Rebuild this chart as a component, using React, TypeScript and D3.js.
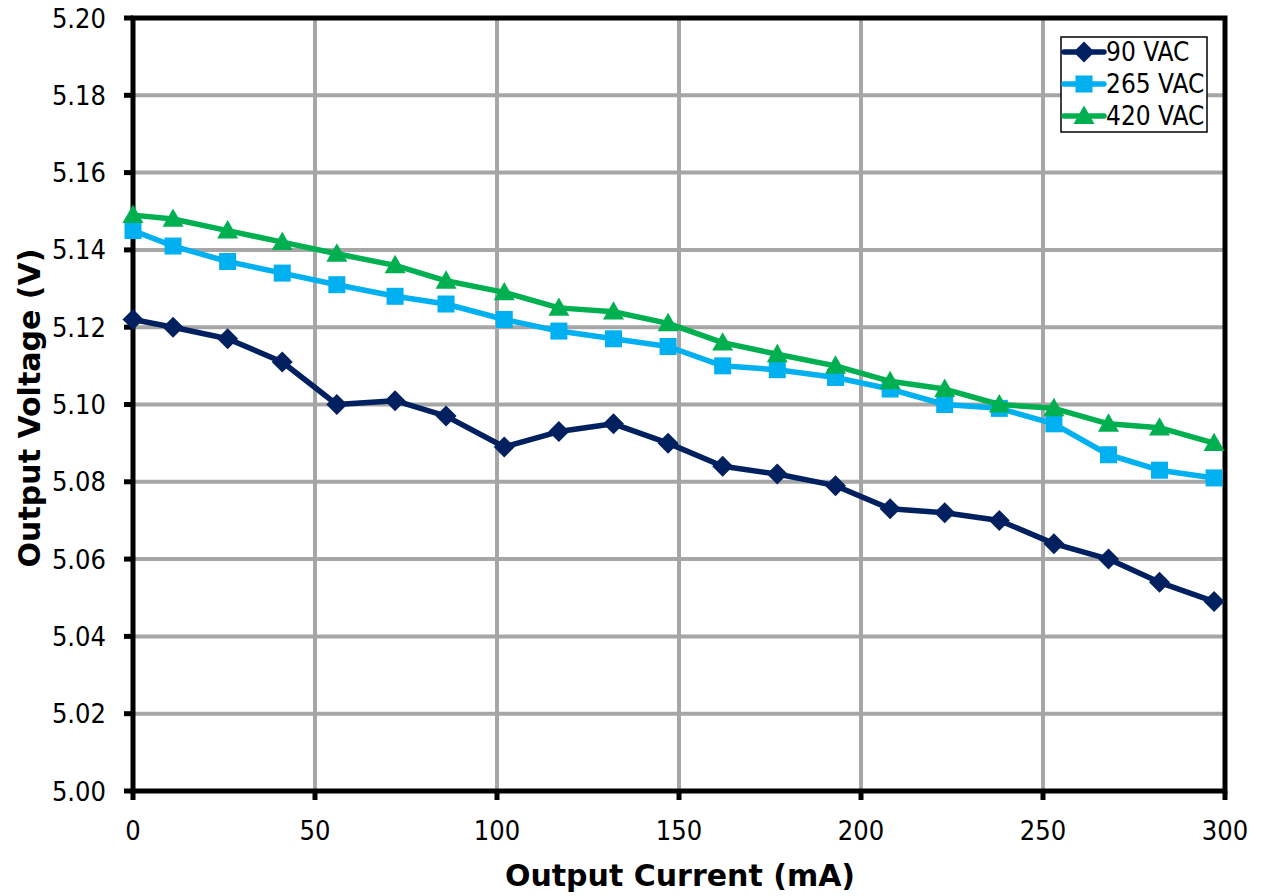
import React from "react";
import * as d3 from "d3";

const currents = [0, 11, 26, 41, 56, 72, 86, 102, 117, 132, 147, 162, 177, 193, 208, 223, 238, 253, 268, 282, 297];
const v90 = [5.122, 5.120, 5.117, 5.111, 5.100, 5.101, 5.097, 5.089, 5.093, 5.095, 5.090, 5.084, 5.082, 5.079, 5.073, 5.072, 5.070, 5.064, 5.060, 5.054, 5.049];
const v265 = [5.145, 5.141, 5.137, 5.134, 5.131, 5.128, 5.126, 5.122, 5.119, 5.117, 5.115, 5.110, 5.109, 5.107, 5.104, 5.100, 5.099, 5.095, 5.087, 5.083, 5.081];
const v420 = [5.149, 5.148, 5.145, 5.142, 5.139, 5.136, 5.132, 5.129, 5.125, 5.124, 5.121, 5.116, 5.113, 5.110, 5.106, 5.104, 5.100, 5.099, 5.095, 5.094, 5.090];
const xTicks = [0, 50, 100, 150, 200, 250, 300];
const yTicks = [5.0, 5.02, 5.04, 5.06, 5.08, 5.1, 5.12, 5.14, 5.16, 5.18, 5.2];
const seriesNames = ["90 VAC", "265 VAC", "420 VAC"];
const seriesColors = ["#002060", "#00B0F0", "#00B050"];
const seriesMarkers = ["diamond", "square", "triangle"];

const W = 1267, H = 896;
const left = 133, right = 1225, top = 18, bottom = 791;
const tickFont = "'DejaVu Sans Condensed', Tahoma, sans-serif";
const titleFont = "'DejaVu Sans', Tahoma, sans-serif";

function Marker({ kind, x, y, color }: { kind: string; x: number; y: number; color: string }) {
  if (kind === "diamond") {
    const s = 10.5;
    return <path d={`M${x},${y - s}L${x + s},${y}L${x},${y + s}L${x - s},${y}Z`} fill={color} />;
  }
  if (kind === "square") {
    const s = 8.5;
    return <rect x={x - s} y={y - s} width={2 * s} height={2 * s} fill={color} />;
  }
  const s = 10.5;
  return <path d={`M${x},${y - s}L${x + s},${y + s * 0.75}L${x - s},${y + s * 0.75}Z`} fill={color} />;
}

export default function App() {
  const x = d3.scaleLinear().domain([0, 300]).range([left, right]);
  const y = d3.scaleLinear().domain([5.0, 5.2]).range([bottom, top]);
  const allSeries = [v90, v265, v420];
  const line = d3
    .line<number>()
    .x((_, i) => x(currents[i]))
    .y((d) => y(d));

  const legendX = 1061, legendY = 37, legendW = 146, legendH = 95;

  return (
    <svg width={W} height={H} style={{ position: "absolute", left: 0, top: 0, background: "#fff" }}>
      <rect x={0} y={0} width={W} height={H} fill="#fff" />
      {xTicks.slice(1, -1).map((t) => (
        <line key={"gx" + t} x1={x(t)} x2={x(t)} y1={top} y2={bottom} stroke="#A6A6A6" strokeWidth={4} />
      ))}
      {yTicks.slice(1, -1).map((t) => (
        <line key={"gy" + t} x1={left} x2={right} y1={y(t)} y2={y(t)} stroke="#A6A6A6" strokeWidth={4} />
      ))}
      <rect x={left} y={top} width={right - left} height={bottom - top} fill="none" stroke="#000" strokeWidth={5} />
      {xTicks.map((t) => (
        <line key={"tx" + t} x1={x(t)} x2={x(t)} y1={bottom} y2={bottom + 9} stroke="#000" strokeWidth={5} />
      ))}
      {yTicks.map((t) => (
        <line key={"ty" + t} x1={left - 9} x2={left} y1={y(t)} y2={y(t)} stroke="#000" strokeWidth={5} />
      ))}
      {xTicks.map((t) => (
        <text key={"lx" + t} x={x(t)} y={840} textAnchor="middle" fontFamily={tickFont} fontSize={27} fill="#000">
          {t}
        </text>
      ))}
      {yTicks.map((t) => (
        <text key={"ly" + t} x={106} y={y(t) + 9.5} textAnchor="end" fontFamily={tickFont} fontSize={27} fill="#000">
          {t.toFixed(2)}
        </text>
      ))}
      <text x={680} y={886} textAnchor="middle" fontFamily={titleFont} fontWeight="bold" fontSize={30} fill="#000">
        Output Current (mA)
      </text>
      <text
        transform={`translate(40,${408}) rotate(-90)`}
        textAnchor="middle"
        fontFamily={titleFont}
        fontWeight="bold"
        fontSize={30}
        fill="#000"
      >
        Output Voltage (V)
      </text>
      {allSeries.map((vals, si) => (
        <g key={"s" + si}>
          <path d={line(vals) || ""} fill="none" stroke={seriesColors[si]} strokeWidth={5.5} strokeLinejoin="round" />
          {vals.map((v, i) => (
            <Marker key={i} kind={seriesMarkers[si]} x={x(currents[i])} y={y(v)} color={seriesColors[si]} />
          ))}
        </g>
      ))}
      <rect x={legendX} y={legendY} width={legendW} height={legendH} fill="#fff" stroke="#000" strokeWidth={1.5} />
      {seriesNames.map((n, i) => {
        const ly = 52 + i * 32;
        return (
          <g key={"lg" + i}>
            <line x1={1064} x2={1104} y1={ly} y2={ly} stroke={seriesColors[i]} strokeWidth={5.5} strokeLinecap="round" />
            <Marker kind={seriesMarkers[i]} x={1084} y={ly} color={seriesColors[i]} />
            <text x={1106} y={ly + 9} fontFamily={tickFont} fontSize={26} fill="#000">
              {n}
            </text>
          </g>
        );
      })}
    </svg>
  );
}
